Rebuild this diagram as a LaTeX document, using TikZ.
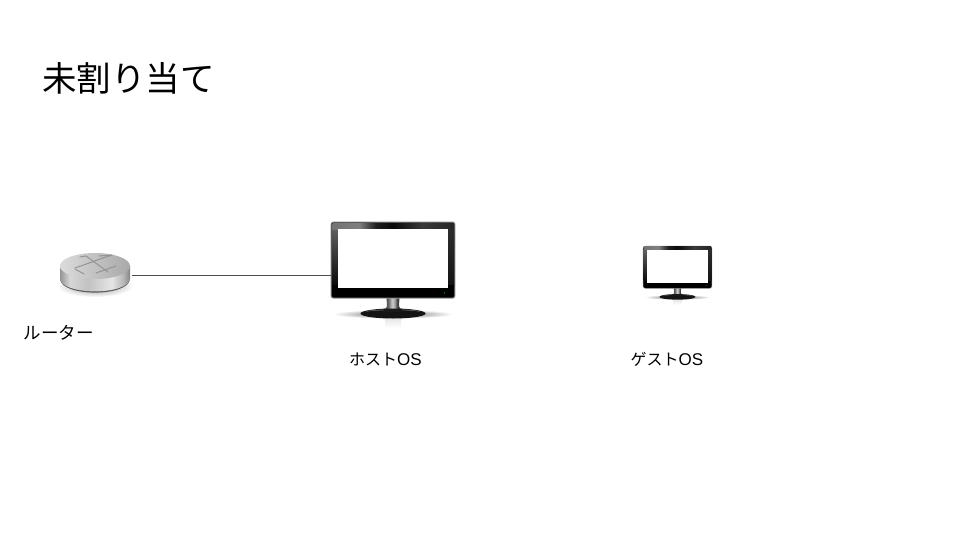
\documentclass[tikz,border=0pt]{standalone}
\usepackage{fontspec}
\setmainfont{Liberation Sans}
\newfontfamily\cjk{Noto Sans CJK JP}
\pgfdeclarehorizontalshading{routerside}{100bp}{
  color(0bp)=(black!42); color(25bp)=(black!42); color(32bp)=(black!16); color(45bp)=(black!24);
  color(62bp)=(black!10); color(70bp)=(black!28); color(75bp)=(black!48); color(100bp)=(black!48)}
\pgfdeclarehorizontalshading{topstrip}{100bp}{
  color(0bp)=(black!55); color(25bp)=(black!55); color(36bp)=(black!50); color(43bp)=(black!88);
  color(50bp)=(black!96); color(62bp)=(black!78); color(75bp)=(black!85); color(100bp)=(black!85)}
\pgfdeclarehorizontalshading{neck}{100bp}{
  color(0bp)=(black!70); color(30bp)=(black!70); color(38bp)=(black!55); color(47bp)=(black!20); color(55bp)=(black!35);
  color(62bp)=(black!75); color(100bp)=(black!75)}
\tikzset{
  page/.style={x=1pt,y=-1pt},
  jp/.style={font=\fontsize{17.5}{20}\selectfont,inner sep=0pt,text=black},
  kana/.style={font=\fontsize{17}{20}\selectfont,inner sep=0pt,text=black},
  title/.style={font=\cjk\fontsize{34.5}{40}\selectfont,inner sep=0pt,text=black},
  link/.style={draw=black!70,line width=0.75pt},
  slot/.style={inner sep=0pt,minimum width=#1},
  pics/monitor/.style={code={
    % floor shadow and reflection
    \shade[inner color=black!60,outer color=white,draw=none] (62,92) ellipse (60 and 4.5);
    \shade[top color=black!10,bottom color=white,draw=none] (54,96) rectangle (70,106);
    % stand
    \fill[black!92] (62,91.5) ellipse (32.5 and 5);
    \fill[black!60] (62,89.8) ellipse (27 and 2.4);
    \fill[black!92] (62,91) ellipse (30 and 2.8);
    \shade[shading=neck,draw=none] (55.5,75) -- (68.5,75) -- (68,84) -- (70.5,89.5) -- (53.5,89.5) -- (56,84) -- cycle;
    \fill[black!90] (53.5,86.5) -- (70.5,86.5) -- (72,90) -- (52,90) -- cycle;
    % body
    \fill[black!45,rounded corners=2.5pt] (-0.4,-0.4) rectangle (124.4,76.6);
    \fill[black,rounded corners=2.2pt] (0.6,0.6) rectangle (123.4,75.6);
    \shade[top color=black!62,bottom color=black!96,draw=none] (1,6) rectangle (6.5,62);
    \shade[top color=black!82,bottom color=black!92,draw=none] (117,6) rectangle (123,62);
    \shade[shading=topstrip,draw=none] (1.5,1) rectangle (122.5,7);
    \fill[white] (6.5,7) rectangle (117,66);
    \fill[green!45!black] (113.5,71) circle (0.8);
  }}
}
\begin{document}
\begin{tikzpicture}[page]
  \useasboundingbox (0,0) rectangle (960,540);
  \fill[white] (0,0) rectangle (960,540);

  \node[title,anchor=west] (heading) at (42,78) {未割り当て};

  % router
  \begin{scope}
    \shade[inner color=black!45,outer color=white,draw=none] (95,286) ellipse (38 and 11);
    \fill[black!65] (60.5,280) -- (129.5,280) arc (0:180:34.5 and 12.6) -- cycle;
    \shade[shading=routerside,draw=none] (60,266) -- (130,266) -- (130,279)
       arc (0:180:35 and 12.4) -- cycle;
    \shade[left color=black!14,right color=black!34,draw=none] (95,266) ellipse (35 and 13);
    \begin{scope}[draw=black!42,line width=1pt,line cap=round]
      \draw (80,257) -- (86,256) -- (108,272);
      \draw (75,269) -- (84,274);
      \draw (75,268) -- (92,262) -- (100,259) -- (112,255);
      \draw (99,256) -- (112,255);
      \draw (96,273) -- (116,266);
    \end{scope}
  \end{scope}
  \node[slot=73pt,minimum height=42pt] (router) at (95.5,275) {};
  \node[jp] (routerlabel) at (58.5,333) {\cjk ルーター};

  % host
  \pic at (331,222) {monitor};
  \node[slot=124pt,minimum height=77pt] (host) at (393,260.5) {};
  \node[kana] (hostlabel) at (385.5,359.5) {{\cjk\fontsize{16}{20}\selectfont ホスト}OS};

  % guest
  \pic[scale=0.556] at (643,246) {monitor};
  \node[slot=69pt,minimum height=43pt] (guest) at (677.5,267.5) {};
  \node[kana] (guestlabel) at (667,359.5) {{\cjk\fontsize{16}{20}\selectfont ゲスト}OS};

  \draw[link] (router.east) -- (router.east -| host.west);
\end{tikzpicture}
\end{document}
